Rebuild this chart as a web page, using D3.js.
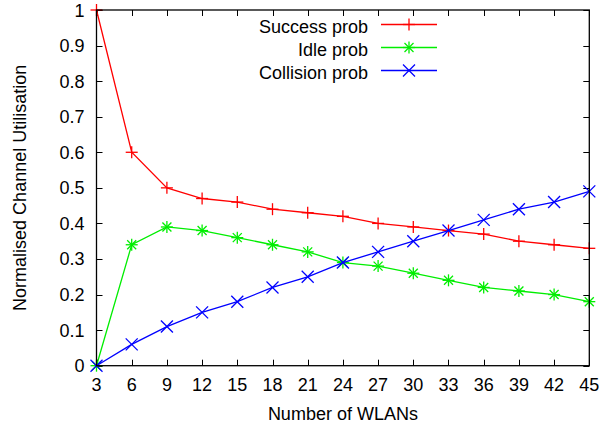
<!DOCTYPE html>
<html>
<head>
<meta charset="utf-8">
<script src="https://cdn.jsdelivr.net/npm/d3@7"></script>
<style>
body { margin: 0; background: #fff; }
text { font-family: "Liberation Sans", Arial, sans-serif; font-size: 18px; fill: #000; }
</style>
</head>
<body>
<script>
var width = 601;
var height = 425;
var margin = {left: 96.5, right: 11.7, top: 10, bottom: 59.3};

var wlans = [3, 6, 9, 12, 15, 18, 21, 24, 27, 30, 33, 36, 39, 42, 45];
var successProb = [1, 0.6, 0.5, 0.47, 0.46, 0.44, 0.43, 0.42, 0.40, 0.39, 0.38, 0.37, 0.35, 0.34, 0.33];
var idleProb = [0, 0.34, 0.39, 0.38, 0.36, 0.34, 0.32, 0.29, 0.28, 0.26, 0.24, 0.22, 0.21, 0.20, 0.18];
var collisionProb = [0, 0.06, 0.11, 0.15, 0.18, 0.22, 0.25, 0.29, 0.32, 0.35, 0.38, 0.41, 0.44, 0.46, 0.49];
var yTicks = [0, 0.1, 0.2, 0.3, 0.4, 0.5, 0.6, 0.7, 0.8, 0.9, 1];

var series = [
    {name: 'Success prob', values: successProb, color: '#ff0000', marker: 'plus'},
    {name: 'Idle prob', values: idleProb, color: '#00ee00', marker: 'star'},
    {name: 'Collision prob', values: collisionProb, color: '#0000ff', marker: 'cross'}
];

var svg = d3.select('body')
    .append('svg')
    .attr('width', width)
    .attr('height', height);

var xScale = d3.scaleLinear()
    .domain([3, 45])
    .range([margin.left, width - margin.right]);

var yScale = d3.scaleLinear()
    .domain([0, 1])
    .range([height - margin.bottom, margin.top]);

var tick = 6;
var x0 = xScale.range()[0], x1 = xScale.range()[1];
var y0 = yScale.range()[0], y1 = yScale.range()[1];

// ticks on all four sides, pointing in (gnuplot style)
var ticks = svg.append('g').attr('stroke', '#000').attr('stroke-width', 1);
wlans.forEach(function (w) {
    var x = Math.round(xScale(w)) + 0.5;
    ticks.append('line').attr('x1', x).attr('x2', x).attr('y1', y0).attr('y2', y0 - tick);
    ticks.append('line').attr('x1', x).attr('x2', x).attr('y1', y1).attr('y2', y1 + tick);
});
yTicks.forEach(function (v) {
    var y = Math.round(yScale(v)) + 0.5;
    ticks.append('line').attr('x1', x0).attr('x2', x0 + tick).attr('y1', y).attr('y2', y);
    ticks.append('line').attr('x1', x1).attr('x2', x1 - tick).attr('y1', y).attr('y2', y);
});

svg.selectAll('.xlab')
    .data(wlans)
    .enter()
    .append('text')
    .attr('x', function (d) { return xScale(d); })
    .attr('y', 390.5)
    .attr('text-anchor', 'middle')
    .text(function (d) { return d; });

svg.selectAll('.ylab')
    .data(yTicks)
    .enter()
    .append('text')
    .attr('x', 84.5)
    .attr('y', function (d) { return yScale(d) + 6.5; })
    .attr('text-anchor', 'end')
    .text(function (d) { return d; });

svg.append('text')
    .attr('x', (x0 + x1) / 2)
    .attr('y', 420)
    .attr('text-anchor', 'middle')
    .text('Number of WLANs');

svg.append('text')
    .attr('transform', 'translate(25.5,' + (y0 + y1) / 2 + ') rotate(-90)')
    .attr('text-anchor', 'middle')
    .text('Normalised Channel Utilisation');

function drawMarker(g, type, x, y, color) {
    var s = 6;
    var m = g.append('g').attr('stroke', color).attr('stroke-width', 1.3);
    if (type === 'plus' || type === 'star') {
        m.append('line').attr('x1', x - s).attr('x2', x + s).attr('y1', y).attr('y2', y);
        m.append('line').attr('x1', x).attr('x2', x).attr('y1', y - s).attr('y2', y + s);
    }
    if (type === 'cross' || type === 'star') {
        var c = type === 'star' ? s * 0.75 : s;
        m.append('line').attr('x1', x - c).attr('x2', x + c).attr('y1', y - c).attr('y2', y + c);
        m.append('line').attr('x1', x - c).attr('x2', x + c).attr('y1', y + c).attr('y2', y - c);
    }
}

var line = d3.line()
    .x(function (d, i) { return xScale(wlans[i]); })
    .y(function (d) { return yScale(d); });

series.forEach(function (s) {
    svg.append('path')
        .datum(s.values)
        .attr('d', line)
        .attr('fill', 'none')
        .attr('stroke', s.color)
        .attr('stroke-width', 1.3);
    var g = svg.append('g');
    s.values.forEach(function (v, i) {
        drawMarker(g, s.marker, xScale(wlans[i]), yScale(v), s.color);
    });
});

// legend
series.forEach(function (s, i) {
    var ly = 24.5 + i * 23;
    svg.append('text')
        .attr('x', 368)
        .attr('y', ly + 8)
        .attr('text-anchor', 'end')
        .text(s.name);
    svg.append('line')
        .attr('x1', 381).attr('x2', 437)
        .attr('y1', ly).attr('y2', ly)
        .attr('stroke', s.color)
        .attr('stroke-width', 1.3);
    drawMarker(svg, s.marker, 409, ly, s.color);
});

// frame
svg.append('rect')
    .attr('x', x0)
    .attr('y', y1)
    .attr('width', x1 - x0)
    .attr('height', y0 - y1)
    .attr('fill', 'none')
    .attr('stroke', '#000')
    .attr('stroke-width', 1.3);
</script>
</body>
</html>
